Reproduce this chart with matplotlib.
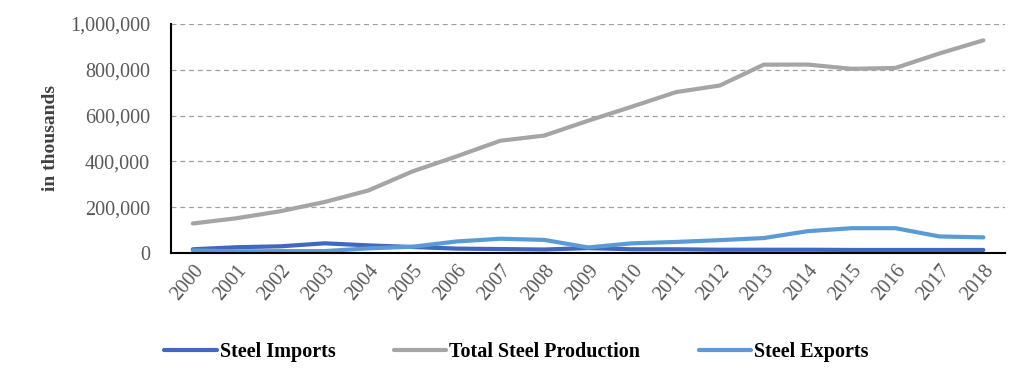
import matplotlib.pyplot as plt
from matplotlib.ticker import FuncFormatter

plt.rcParams['font.family'] = ['Liberation Serif', 'DejaVu Serif']

years = [str(y) for y in range(2000, 2019)]
steel_imports = [16000, 25000, 29000, 42000, 33000, 26000, 19000, 17000, 15000, 21000,
                 16000, 16000, 14000, 14000, 14000, 13000, 13000, 13000, 13000]
total_production = [128500, 151634, 182249, 222336, 272798, 355790, 421024, 489712, 512339,
                    577070, 638743, 701968, 731040, 822000, 822306, 803825, 807609, 870855, 928264]
steel_exports = [11000, 7000, 8000, 8000, 20000, 27000, 50000, 62000, 57000, 24000,
                 42000, 48000, 56000, 65000, 95000, 108000, 108000, 72000, 68000]

fig = plt.figure(figsize=(10.29, 3.85), dpi=100)
ax = fig.add_axes([0.166, 0.343, 0.811, 0.595])

x = range(len(years))
ax.plot(x, steel_imports, color='#3F68BE', lw=3, solid_capstyle='round', label='Steel Imports')
ax.plot(x, total_production, color='#A5A5A5', lw=3, solid_capstyle='round', label='Total Steel Production')
ax.plot(x, steel_exports, color='#5B9BD5', lw=3, solid_capstyle='round', label='Steel Exports')

ax.set_xlim(-0.5, len(years) - 0.5)
ax.set_ylim(0, 1000000)
ax.set_yticks(range(0, 1000001, 200000))
ax.yaxis.set_major_formatter(FuncFormatter(lambda v, p: '{:,.0f}'.format(v)))
ax.set_xticks(list(x))
ax.set_xticklabels(years, rotation=50, ha='right', rotation_mode='anchor')
ax.tick_params(axis='both', length=0, labelsize=14.5, labelcolor='#595959')
ax.tick_params(axis='x', pad=6)
ax.tick_params(axis='y', pad=15)
ax.grid(axis='y', color='#A0A0A0', linestyle=(0, (4, 3)), lw=0.9)
ax.set_axisbelow(True)
for s in ['top', 'right']:
    ax.spines[s].set_visible(False)
ax.spines['left'].set_linewidth(1.5)
ax.spines['bottom'].set_linewidth(1.5)
ax.set_ylabel('in thousands', fontsize=14, fontweight='bold', color='#404040', labelpad=8)

leg = fig.legend(loc='center', bbox_to_anchor=(0.502, 0.086), ncol=3, frameon=False,
                 prop={'weight': 'bold', 'size': 14.5}, handlelength=2.6, handletextpad=0.15,
                 columnspacing=2.9)

fig.savefig('out.png', dpi=100)
